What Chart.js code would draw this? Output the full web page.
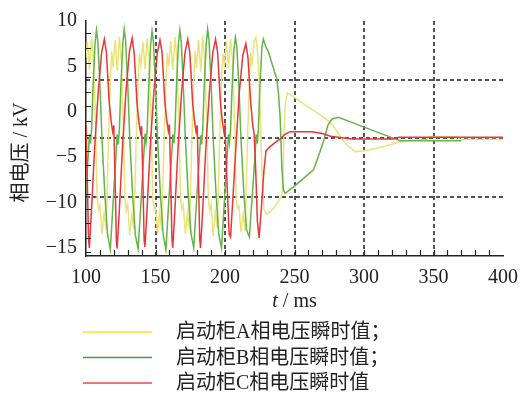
<!DOCTYPE html>
<html>
<head>
<meta charset="utf-8">
<script src="https://cdn.jsdelivr.net/npm/chart.js@4.4.1/dist/chart.umd.min.js"></script>
<style>
    html, body { margin: 0; padding: 0; background: #fff; }
    canvas { display: block; }
</style>
</head>
<body>
<canvas id="phaseChart" width="524" height="395"></canvas>
<script>
// 启动柜三相电压瞬时值 (ms / kV)
const labelsABC = ['启动柜A相电压瞬时值；', '启动柜B相电压瞬时值；', '启动柜C相电压瞬时值'];

const tA = [100, 101, 102.5, 104, 105.5, 107, 108, 109, 110, 111.5, 113, 114.5,
    116, 117.5, 118.5, 119.5, 121, 122.5, 124, 125.5, 127, 128, 129, 130, 131.5, 133, 134.5,
    136, 137.5, 138.5, 139.5, 141, 142.5, 144, 145.5, 147, 148, 149, 150, 151.5, 153, 154.5,
    156, 157.5, 158.5, 159.5, 161, 162.5, 164, 165.5, 167, 168, 169, 170, 171.5, 173, 174.5,
    176, 177.5, 178.5, 179.5, 181, 182.5, 184, 185.5, 187, 188, 189, 190, 191.5, 193, 194.5,
    196, 197.5, 198.5, 199.5, 201, 202.5, 204, 205.5, 207, 208, 209, 210, 211.5, 213, 214.5,
    216, 217.5, 218.5, 219.5, 221, 222.2, 223.5, 225, 226.5, 228, 230, 233, 236, 240, 241.5, 242.5, 243.5, 245,
    260, 271, 277, 281.7, 285, 287.8, 293.8, 302.2, 315, 328.6, 345, 347, 367, 369, 400];
const vA = [6.0, 7.8, 4.6, 8.2, 5.5, -2, -9.5, -10.8, -10.3, -13.5, -11.2, -13.0,
    -4, 3.5, 6.6, 4.9, 7.9, 4.5, 8.3, 5.4, -2.2, -9.6, -10.9, -10.2, -13.6, -11.3, -12.9,
    -3.8, 3.6, 6.4, 5.1, 7.7, 4.7, 8.1, 5.6, -1.8, -9.4, -10.7, -10.4, -13.4, -11.1, -13.1,
    -4.1, 3.4, 6.5, 5.0, 7.8, 4.6, 8.2, 5.5, -2.0, -9.5, -10.8, -10.3, -13.5, -11.2, -13.0,
    -4, 3.5, 6.7, 4.8, 7.9, 4.4, 8.3, 5.3, -2.1, -9.6, -10.9, -10.2, -13.7, -11.0, -12.8,
    -3.9, 3.6, 6.4, 5.2, 7.7, 4.8, 8.0, 5.6, -1.9, -9.4, -10.6, -10.4, -13.3, -11.3, -13.1,
    -4, 3.5, 6.5, 5.0, 7.8, 8.2, 6.5, 2.0, -6, -10.8, -11.3, -11.0, -10.4, -9.5, -8.8, -2, 1.0, 2.1,
    0.5, -0.6, -1.4, -2.4, -3.2, -3.7, -4.4, -4.25, -3.8, -3.2, -3.05, -2.75, -2.75, -3.05, -3.05];

const tB = [100, 101.5, 102.5, 103.2, 104, 105, 106.5, 107.5, 108.5, 110, 111.5, 113.5, 115.5,
    117.5, 119.5, 121.5, 122.5, 123.2, 124, 125, 126.5, 127.5, 128.5, 130, 131.5, 133.5, 135.5,
    137.5, 139.5, 141.5, 142.5, 143.2, 144, 145, 146.5, 147.5, 148.5, 150, 151.5, 153.5, 155.5,
    157.5, 159.5, 161.5, 162.5, 163.2, 164, 165, 166.5, 167.5, 168.5, 170, 171.5, 173.5, 175.5,
    177.5, 179.5, 181.5, 182.5, 183.2, 184, 185, 186.5, 187.5, 188.5, 190, 191.5, 193.5, 195.5,
    197.5, 199.5, 201.5, 202.5, 203.2, 204, 205, 206.5, 207.5, 208.5, 210, 211.5, 213.5, 215.5,
    217.5, 219.5, 221.5, 222.5, 223.2, 224, 225, 226.6, 227.6, 229, 231.2, 234, 237.3, 238.5, 239.7, 240.9, 242, 243.3,
    250, 256, 263.7, 267, 271, 274, 277, 281.7, 300, 319, 326, 370];
const vB = [-8.75, -5, -2.5, -3.5, -2.0, 2.5, 7.5, 9.0, 7.8, 3, -3, -9, -13.5,
    -15.2, -10, -5, -2.5, -3.6, -2.0, 2.5, 7.6, 9.1, 7.8, 3.1, -3, -9.1, -13.6,
    -15.1, -10.1, -4.9, -2.4, -3.4, -2.1, 2.4, 7.4, 8.9, 7.7, 2.9, -3.1, -9, -13.5,
    -15.2, -10, -5, -2.5, -3.5, -2.0, 2.5, 7.5, 9.0, 7.8, 3, -3, -9, -13.4,
    -15.0, -9.9, -5.1, -2.6, -3.6, -1.9, 2.6, 7.5, 9.1, 7.9, 3.1, -2.9, -8.9, -13.5,
    -15.0, -10, -5, -2.5, -3.4, -2.0, 2.3, 7.0, 8.2, 7.2, 2.8, -3, -8.8, -13.0,
    -13.8, -9.5, -5, -2.5, -3.5, -2.0, 2.5, 7.2, 8.0, 7.3, 6.6, 5.2, 3.6, 2.0, -0.7, -6.2, -8.6, -9.0,
    -8.2, -7.4, -6.4, -5, -3.2, -1.5, -0.8, -0.6, -1.7, -2.8, -3.2, -3.2];

const tC = [100, 101, 101.8,
    102.4, 103.9, 106.2, 108.7, 111.2, 113.2, 114.7, 116.7, 118.2, 119.2, 120, 121, 121.8,
    122.4, 123.9, 126.2, 128.7, 131.2, 133.2, 134.7, 136.7, 138.2, 139.2, 140, 141, 141.8,
    142.4, 143.9, 146.2, 148.7, 151.2, 153.2, 154.7, 156.7, 158.2, 159.2, 160, 161, 161.8,
    162.4, 163.9, 166.2, 168.7, 171.2, 173.2, 174.7, 176.7, 178.2, 179.2, 180, 181, 181.8,
    182.4, 183.9, 186.2, 188.7, 191.2, 193.2, 194.7, 196.7, 198.2, 199.2, 200, 201.5, 203,
    204, 205.5, 207.8, 210.2, 212.8, 215, 216.5, 218.5, 220, 221, 222, 223.3, 224.5, 226, 228, 229.5,
    232, 236, 239.7, 243, 247, 262.5, 270, 276, 291, 321, 325, 400];
const vC = [-1.5, -8, -14,
    -15.0, -11, -4, 2, 6.5, 8.0, 6.5, 1, -1.2, -2.2, -1.5, -8, -14,
    -15.1, -11.1, -4.1, 2.1, 6.6, 8.1, 6.4, 0.9, -1.3, -2.3, -1.6, -8.1, -14.1,
    -14.9, -10.9, -3.9, 1.9, 6.4, 7.9, 6.6, 1.1, -1.1, -2.1, -1.4, -7.9, -13.9,
    -15.0, -11, -4, 2, 6.5, 8.0, 6.5, 1, -1.2, -2.2, -1.5, -8, -14,
    -15.0, -11, -4, 2, 6.5, 8.0, 6.5, 1, -1.2, -2.2, -1.5, -8, -13.5,
    -13.8, -10, -4, 2, 6.2, 7.5, 6.0, 1, -1.5, -2.5, -6, -12, -13.9, -11, -6.5, -4.3,
    -3.9, -3.4, -3.0, -2.5, -2.2, -2.2, -2.4, -2.7, -3.0, -3.0, -2.8, -2.8];

// axis ticks and reference lines
const xTicks = [100, 150, 200, 250, 300, 350, 400];
const yTicks = [10, 5, 0, -5, -10, -15];
const vLines = [150, 200, 250, 300, 350];
const hLines = [3.5, -2.85, -9.4];
const yMinor = [8.65, 7.0, 5.4, 3.8, 2.2, 0.6, -1.0, -2.6, -4.3, -5.9, -7.5, -9.1, -10.7, -12.3, -13.9, -15.5];
const xMinor = [];
for (let t = 110; t < 400; t += 10) xMinor.push(t);

const FONT = '"Liberation Serif", "Noto Sans CJK SC", serif';
const lineColors = ['#e9e47a', '#62b546', '#e8363a'];
const legendColors = ['#f2e824', '#3aa048', '#e8464a'];

function toPoints(ts, vs) {
    return ts.map((t, i) => ({x: t, y: vs[i]}));
}

const decor = {
    id: 'decor',
    beforeDatasetsDraw(chart) {
        const {ctx, chartArea: a, scales: {x, y}} = chart;
        ctx.save();
        ctx.strokeStyle = '#1a1a1a';
        ctx.lineWidth = 1.5;
        ctx.setLineDash([4, 3]);
        vLines.forEach(v => {
            const px = Math.round(x.getPixelForValue(v));
            ctx.beginPath();
            ctx.moveTo(px, a.top);
            ctx.lineTo(px, a.bottom);
            ctx.stroke();
        });
        hLines.forEach(v => {
            const py = Math.round(y.getPixelForValue(v));
            ctx.beginPath();
            ctx.moveTo(a.left, py);
            ctx.lineTo(a.right, py);
            ctx.stroke();
        });
        ctx.restore();
    },
    afterDraw(chart) {
        const {ctx, chartArea: a, scales: {x, y}} = chart;
        ctx.save();
        // inward tick marks
        ctx.strokeStyle = '#222';
        ctx.lineWidth = 1.2;
        ctx.beginPath();
        xMinor.forEach(v => {
            const px = Math.round(x.getPixelForValue(v)) + 0.5;
            ctx.moveTo(px, a.bottom);
            ctx.lineTo(px, a.bottom - 6);
        });
        yMinor.forEach(v => {
            const py = Math.round(y.getPixelForValue(v)) + 0.5;
            ctx.moveTo(a.left, py);
            ctx.lineTo(a.left + 5, py);
        });
        ctx.stroke();

        // axis titles
        ctx.fillStyle = '#222';
        ctx.font = '20px ' + FONT;
        ctx.textBaseline = 'middle';
        ctx.save();
        ctx.translate(a.left - 64, (a.top + a.bottom) / 2 + 14);
        ctx.rotate(-Math.PI / 2);
        ctx.textAlign = 'center';
        ctx.fillText('相电压 / kV', 0, 0);
        ctx.restore();

        ctx.textAlign = 'left';
        const rest = ' / ms';
        ctx.font = 'italic 20px ' + FONT;
        const wt = ctx.measureText('t').width;
        ctx.font = '20px ' + FONT;
        const wr = ctx.measureText(rest).width;
        const cx = (a.left + a.right) / 2;
        const sx = cx - (wt + wr) / 2;
        ctx.font = 'italic 20px ' + FONT;
        ctx.fillText('t', sx, a.bottom + 46);
        ctx.font = '20px ' + FONT;
        ctx.fillText(rest, sx + wt, a.bottom + 46);

        // legend
        chart.data.datasets.forEach((ds, i) => {
            const ly = 332 + i * 25.5;
            ctx.strokeStyle = legendColors[i];
            ctx.lineWidth = 1.5;
            ctx.beginPath();
            ctx.moveTo(83, ly);
            ctx.lineTo(152, ly);
            ctx.stroke();
            ctx.fillStyle = '#222';
            ctx.fillText(ds.label, 176, ly + 1);
        });
        ctx.restore();
    }
};

const ctx = document.getElementById('phaseChart').getContext('2d');
const phaseChart = new Chart(ctx, {
    type: 'line',
    data: {
        datasets: [
            {label: labelsABC[0], data: toPoints(tA, vA), borderColor: lineColors[0], order: 2},
            {label: labelsABC[1], data: toPoints(tB, vB), borderColor: lineColors[1], order: 1},
            {label: labelsABC[2], data: toPoints(tC, vC), borderColor: lineColors[2], order: 0}
        ]
    },
    options: {
        responsive: false,
        animation: false,
        devicePixelRatio: 1,
        elements: {
            line: {borderWidth: 1.5, tension: 0, fill: false},
            point: {radius: 0}
        },
        layout: {
            padding: {left: 46, right: 21, top: 20, bottom: 99}
        },
        plugins: {
            legend: {display: false},
            tooltip: {enabled: false}
        },
        scales: {
            x: {
                type: 'linear',
                min: 100,
                max: 400,
                afterBuildTicks: (s) => { s.ticks = xTicks.map(v => ({value: v})); },
                afterFit: (s) => { s.height = 40; s.paddingRight = 0; s.paddingLeft = 0; },
                ticks: {
                    font: {family: FONT, size: 20},
                    color: '#222',
                    padding: 10,
                    maxRotation: 0,
                    autoSkip: false
                },
                grid: {display: false, drawTicks: false},
                border: {display: true, color: '#222', width: 1.5}
            },
            y: {
                min: -15.9,
                max: 10,
                afterBuildTicks: (s) => { s.ticks = yTicks.map(v => ({value: v})); },
                afterFit: (s) => { s.width = 40; },
                ticks: {
                    font: {family: FONT, size: 20},
                    color: '#222',
                    padding: 9,
                    autoSkip: false,
                    callback: (v) => v < 0 ? '\u2212' + Math.abs(v) : String(v)
                },
                grid: {display: false, drawTicks: false},
                border: {display: true, color: '#222', width: 1.5}
            }
        }
    },
    plugins: [decor]
});
</script>
</body>
</html>
